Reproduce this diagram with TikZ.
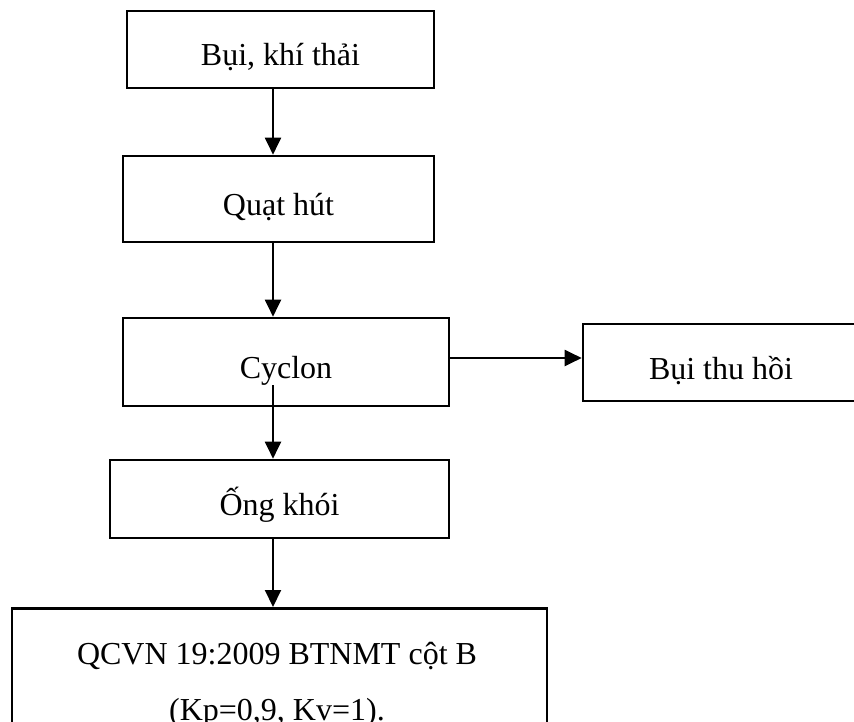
\documentclass[tikz,border=0pt]{standalone}
\usepackage{fontspec}
\setmainfont{Liberation Serif}
\usetikzlibrary{arrows.meta}
\begin{document}
\begin{tikzpicture}[x=1pt,y=-1pt,
  box/.style={draw, line width=2.6pt, inner sep=0pt,
    font=\fontsize{32}{38}\selectfont, text height=33pt, text depth=0pt},
  flow/.style={line width=2pt, -{Triangle[length=17pt,width=16pt]}}]
\useasboundingbox (0,0) rectangle (854,722);

% process boxes
\node[box, minimum width=307pt, minimum height=77pt] (dust) at (280.5,49.5) {Bụi, khí thải};
\node[box, minimum width=311pt, minimum height=86pt] (fan) at (278.5,199) {Quạt hút};
\node[box, minimum width=326pt, minimum height=88pt] (cyclone) at (286,362) {Cyclon};
\node[box, minimum width=276pt, minimum height=77pt] (recovered) at (721,362.5) {Bụi thu hồi};
\node[box, minimum width=339pt, minimum height=78pt] (stack) at (279.5,499) {Ống khói};

% standard box, running off the lower edge
\node[draw, line width=2.6pt, inner sep=0pt, minimum width=535pt, minimum height=160pt,
  anchor=north] (qcvn) at (279.5,607) {};
\node[anchor=base, align=center, inner sep=0pt, font=\fontsize{32}{56}\selectfont]
  (qcvntext) at (277,720) {QCVN 19:2009 BTNMT cột B\\(Kp=0,9, Kv=1).};

% connectors
\coordinate (axis) at (273,0);
\coordinate (cyout) at (273,385);
\coordinate (side) at (0,358);
\draw[flow] (dust.south -| axis) -- (fan.north -| axis);
\draw[flow] (fan.south -| axis) -- (cyclone.north -| axis);
\draw[flow] (cyout) -- (stack.north -| axis);
\draw[flow] (stack.south -| axis) -- (qcvn.north -| axis);
\draw[flow] (cyclone.east |- side) -- (recovered.west |- side);
\end{tikzpicture}
\end{document}
